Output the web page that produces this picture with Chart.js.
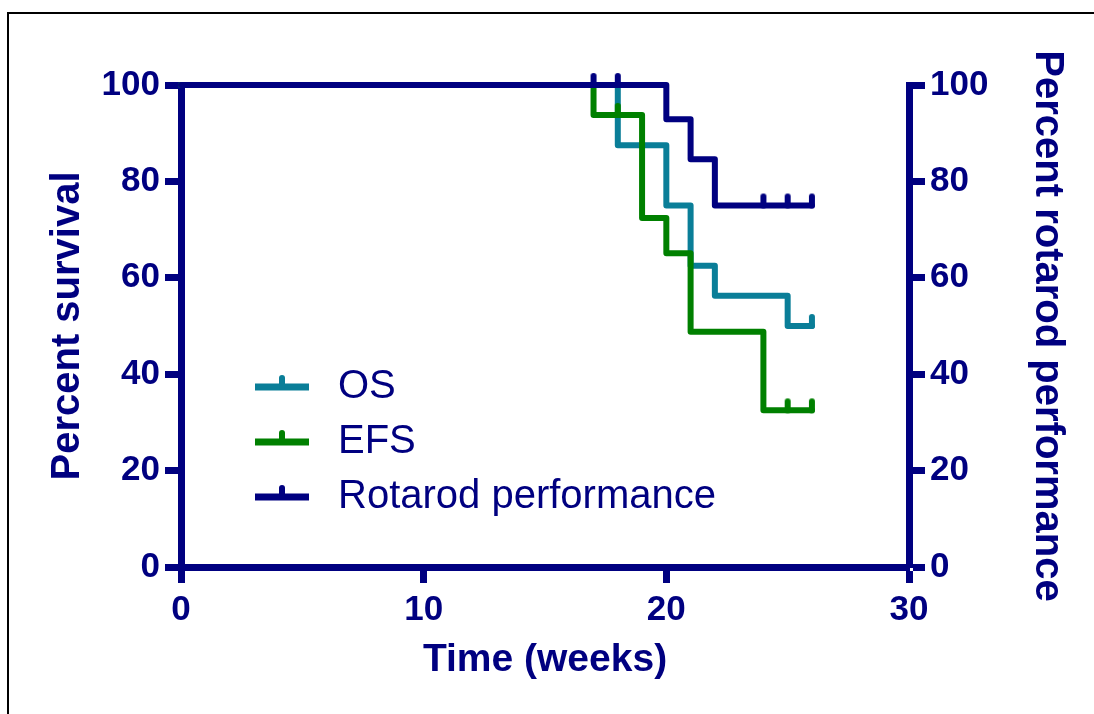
<!DOCTYPE html>
<html>
<head>
<meta charset="utf-8">
<title>Survival and rotarod performance</title>
<script src="https://cdn.jsdelivr.net/npm/chart.js@4.4.0/dist/chart.umd.min.js"></script>
<style>
  body { margin: 0; background: #fff; overflow: hidden; }
  #frame {
    position: absolute; left: 7px; top: 12px; width: 2000px; height: 2000px;
    border-top: 2px solid #000; border-left: 2px solid #000;
  }
  #kmChart { position: absolute; left: 0; top: 0; }
</style>
</head>
<body>
<div id="frame"></div>
<canvas id="kmChart" width="1094" height="714"></canvas>
<script>
// Tick values
const xTickValues = [0, 10, 20, 30];
const yTickValues = [0, 20, 40, 60, 80, 100];

// Overall survival (weeks where the curve steps, and the new value)
const osWeeks = [0, 18, 20, 21, 22, 25, 26];
const osSurvival = [100, 87.5, 75, 62.5, 56.3, 50, 50];
const osCensored = [26];

// Event-free survival
const efsWeeks = [0, 17, 19, 20, 21, 24, 26];
const efsSurvival = [100, 93.8, 72.4, 65.1, 48.8, 32.5, 32.5];
const efsCensored = [18, 25, 26];

// Rotarod performance (right axis)
const rotarodWeeks = [0, 20, 21, 22, 26];
const rotarodPerf = [100, 92.9, 84.6, 75, 75];
const rotarodCensored = [17, 18, 24, 25, 26];

const NAVY = '#000080';
const GREEN = '#008000';
const TEAL = '#0a7e98';
const FONT = '"Liberation Sans", Arial, sans-serif';

// value of a step curve at time t
function valueAt(weeks, values, t) {
    let v = values[0];
    for (let i = 0; i < weeks.length; i++) {
        if (weeks[i] <= t) v = values[i];
    }
    return v;
}

// small vertical tick sitting on top of the curve
function censorMark(color) {
    const c = document.createElement('canvas');
    c.width = 10;
    c.height = 28;
    const g = c.getContext('2d');
    g.strokeStyle = color;
    g.lineWidth = 6;
    g.lineCap = 'round';
    g.beginPath();
    g.moveTo(5, 14);
    g.lineTo(5, 5);
    g.stroke();
    return c;
}

function curve(label, weeks, values, color, axis, order) {
    return {
        label: label,
        inLegend: true,
        data: weeks.map((w, i) => ({ x: w, y: values[i] })),
        borderColor: color,
        backgroundColor: color,
        borderWidth: 6,
        borderJoinStyle: 'round',
        borderCapStyle: 'round',
        stepped: true,
        pointRadius: 0,
        fill: false,
        yAxisID: axis,
        order: order,
        clip: false
    };
}

function censors(weeks, values, censored, color, axis, order) {
    return {
        label: '',
        data: censored.map(t => ({ x: t, y: valueAt(weeks, values, t) })),
        showLine: false,
        pointStyle: censorMark(color),
        pointRadius: 5,
        pointHoverRadius: 5,
        yAxisID: axis,
        order: order,
        clip: false
    };
}

// legend drawn inside the plot area
const kmLegend = {
    id: 'kmLegend',
    afterDraw(chart, args, opts) {
        const ctx = chart.ctx;
        const items = chart.data.datasets.filter(d => d.inLegend);
        items.forEach((ds, i) => {
            const y = opts.top + i * opts.rowGap;
            const mid = opts.left + opts.sampleWidth / 2;
            ctx.save();
            ctx.strokeStyle = ds.borderColor;
            ctx.lineWidth = 7;
            ctx.beginPath();
            ctx.moveTo(opts.left, y);
            ctx.lineTo(opts.left + opts.sampleWidth, y);
            ctx.stroke();
            ctx.lineWidth = 6;
            ctx.lineCap = 'round';
            ctx.beginPath();
            ctx.moveTo(mid, y);
            ctx.lineTo(mid, y - 9);
            ctx.stroke();
            ctx.fillStyle = opts.color;
            ctx.font = opts.font;
            ctx.textBaseline = 'middle';
            ctx.textAlign = 'left';
            ctx.fillText(ds.label, opts.textX, y);
            ctx.restore();
        });
    }
};

function yAxis(position, titleText, titleSize, titlePad, width) {
    return {
        type: 'linear',
        position: position,
        min: 0,
        max: 100,
        afterBuildTicks: (scale) => { scale.ticks = yTickValues.map(v => ({ value: v })); },
        afterFit: (scale) => { scale.width = width; },
        grid: {
            drawOnChartArea: false,
            drawTicks: true,
            tickLength: 16,
            tickWidth: 7,
            tickColor: NAVY
        },
        border: { display: true, color: NAVY, width: 7 },
        ticks: {
            color: NAVY,
            padding: 5,
            font: { family: FONT, size: 35, weight: 'bold' }
        },
        title: {
            display: true,
            text: titleText,
            color: NAVY,
            padding: { top: titlePad, bottom: 0 },
            font: { family: FONT, size: titleSize, weight: 'bold' }
        }
    };
}

const ctx = document.getElementById('kmChart').getContext('2d');

const kmChart = new Chart(ctx, {
    type: 'line',
    data: {
        datasets: [
            curve('OS', osWeeks, osSurvival, TEAL, 'y', 3),
            curve('EFS', efsWeeks, efsSurvival, GREEN, 'y', 2),
            curve('Rotarod performance', rotarodWeeks, rotarodPerf, NAVY, 'y2', 1),
            censors(osWeeks, osSurvival, osCensored, TEAL, 'y', 3),
            censors(efsWeeks, efsSurvival, efsCensored, GREEN, 'y', 2),
            censors(rotarodWeeks, rotarodPerf, rotarodCensored, NAVY, 'y2', 1)
        ]
    },
    options: {
        responsive: false,
        animation: false,
        layout: { padding: { top: 85, left: 0, right: 0, bottom: 0 } },
        plugins: {
            legend: { display: false },
            tooltip: { enabled: false },
            kmLegend: {
                left: 255,
                top: 387,
                rowGap: 55,
                sampleWidth: 54,
                textX: 338,
                color: NAVY,
                font: '40px ' + FONT
            }
        },
        scales: {
            x: {
                type: 'linear',
                position: 'bottom',
                min: 0,
                max: 30,
                afterBuildTicks: (scale) => { scale.ticks = xTickValues.map(v => ({ value: v })); },
                afterFit: (scale) => { scale.height = 147; },
                grid: {
                    drawOnChartArea: false,
                    drawTicks: true,
                    tickLength: 16,
                    tickWidth: 7,
                    tickColor: NAVY
                },
                border: { display: true, color: NAVY, width: 7 },
                ticks: {
                    color: NAVY,
                    padding: 6,
                    maxRotation: 0,
                    font: { family: FONT, size: 35, weight: 'bold' }
                },
                title: {
                    display: true,
                    text: 'Time (weeks)',
                    color: NAVY,
                    padding: { top: 0, bottom: 30 },
                    font: { family: FONT, size: 39, weight: 'bold' }
                }
            },
            y: yAxis('left', 'Percent survival', 40, 44, 181),
            y2: yAxis('right', 'Percent rotarod performance', 40, 23, 185)
        }
    },
    plugins: [kmLegend]
});
</script>
</body>
</html>
